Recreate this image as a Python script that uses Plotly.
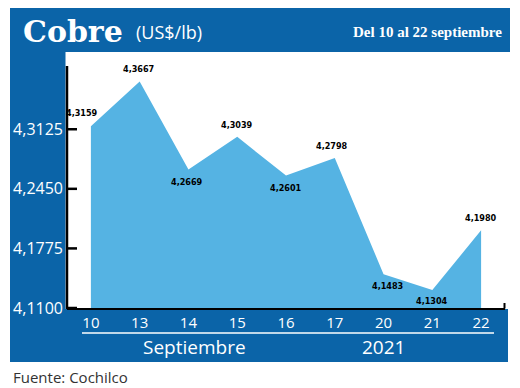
import plotly.graph_objects as go

days = ["10", "13", "14", "15", "16", "17", "20", "21", "22"]
prices = [4.3159, 4.3667, 4.2669, 4.3039, 4.2601, 4.2798, 4.1483, 4.1304, 4.1980]
price_labels = ["4,3159", "4,3667", "4,2669", "4,3039", "4,2601", "4,2798", "4,1483", "4,1304", "4,1980"]
ytick_vals = [4.1100, 4.1775, 4.2450, 4.3125]
ytick_text = ["4,1100", "4,1775", "4,2450", "4,3125"]

# label offsets (px) relative to each point
label_dx = [-9, -1, -1, 0, 0, -3, 4, 0, 0]
label_dy = [13, 12, -12, 12, -12, 12, -12, -11, 12]

OFF = 8  # page body margin
W, H = 520 - OFF, 388 - OFF
# plot area in reference (window) pixels
L, R, T, B = 67, 505, 52, 308
Y_RANGE = [4.11, 4.40]
X_RANGE = [-0.49, 8.49]
BLUE = "#0b64a8"
AREA = "#55b3e3"

def px(x):
    return (x - L) / (R - L)

def py(y):
    return (B - y) / (B - T)

fig = go.Figure()
fig.add_trace(go.Scatter(
    x=list(range(len(days))), y=prices, mode="lines", fill="tozeroy",
    line=dict(width=0, color=AREA), fillcolor=AREA, hoverinfo="skip",
))

# inside tick marks on the y axis, as a line trace built from the tick values
tick_len = 10 / ((R - L) / (X_RANGE[1] - X_RANGE[0]))
tx, ty = [], []
for v in ytick_vals:
    tx += [X_RANGE[0], X_RANGE[0] + tick_len, None]
    ty += [v, v, None]
fig.add_trace(go.Scatter(x=tx, y=ty, mode="lines", line=dict(color="black", width=2.5),
                         hoverinfo="skip", cliponaxis=False))

shapes = [
    dict(type="rect", xref="paper", yref="paper", x0=px(10), x1=px(510), y0=py(52), y1=py(8),
         fillcolor=BLUE, line=dict(width=0), layer="below"),
    dict(type="rect", xref="paper", yref="paper", x0=px(10), x1=px(65.5), y0=py(362), y1=py(52),
         fillcolor=BLUE, line=dict(width=0), layer="below"),
    dict(type="rect", xref="paper", yref="paper", x0=px(10), x1=px(508), y0=py(362), y1=py(309),
         fillcolor=BLUE, line=dict(width=0), layer="below"),
    # y axis line
    dict(type="line", xref="paper", yref="paper", x0=0, x1=0, y0=py(309), y1=py(66),
         line=dict(color="black", width=2.5), layer="above"),
    # right small tick
    dict(type="line", xref="paper", yref="paper", x0=px(504.5), x1=px(504.5), y0=py(308.5), y1=py(303),
         line=dict(color="black", width=2), layer="below"),
    # white rule under day labels
    dict(type="line", xref="paper", yref="paper", x0=px(82), x1=px(494), y0=py(333), y1=py(333),
         line=dict(color="white", width=1.5), layer="above"),
]

annotations = []
for i, (p, t, dx, dy) in enumerate(zip(prices, price_labels, label_dx, label_dy)):
    annotations.append(dict(
        xref="x", yref="y", x=i, y=p, text="<b>" + t + "</b>", showarrow=False, xshift=dx, yshift=dy,
        font=dict(family="Liberation Sans Narrow, DejaVu Sans Condensed, Arial Narrow, sans-serif",
                  size=9, color="black"),
    ))

annotations += [
    dict(xref="paper", yref="paper", x=px(21), y=py(31), xanchor="left", yanchor="middle",
         text="<b>Cobre</b>", showarrow=False,
         font=dict(family="DejaVu Serif, serif", size=30, color="white")),
    dict(xref="paper", yref="paper", x=px(134), y=py(32), xanchor="left", yanchor="middle",
         text="(US$/lb)", showarrow=False,
         font=dict(family="Open Sans, sans-serif", size=18, color="white")),
    dict(xref="paper", yref="paper", x=px(504), y=py(32), xanchor="right", yanchor="middle",
         text="<b>Del 10 al 22 septiembre</b>", showarrow=False,
         font=dict(family="Liberation Serif, serif", size=15, color="white")),
    dict(xref="paper", yref="paper", x=px(194), y=py(347), xanchor="center", yanchor="middle",
         text="Septiembre", showarrow=False,
         font=dict(family="Open Sans, sans-serif", size=19, color="white")),
    dict(xref="paper", yref="paper", x=px(383), y=py(347), xanchor="center", yanchor="middle",
         text="2021", showarrow=False,
         font=dict(family="Open Sans, sans-serif", size=19, color="white")),
    dict(xref="paper", yref="paper", x=px(11), y=py(377), xanchor="left", yanchor="middle",
         text="Fuente: Cochilco", showarrow=False,
         font=dict(family="Open Sans, sans-serif", size=15, color="#333333")),
]

fig.update_layout(
    width=W, height=H, autosize=False,
    margin=dict(l=L - OFF, r=520 - R, t=T - OFF, b=388 - B, pad=0, autoexpand=False),
    paper_bgcolor="white", plot_bgcolor="white",
    showlegend=False,
    shapes=shapes, annotations=annotations,
    xaxis=dict(
        range=X_RANGE, showgrid=False, zeroline=False, automargin=False,
        tickmode="array", tickvals=list(range(len(days))), ticktext=days,
        showline=True, linecolor="black", linewidth=2, layer="below traces",
        ticks="", tickfont=dict(family="Open Sans, sans-serif", size=15, color="white"),
        fixedrange=True,
    ),
    yaxis=dict(
        range=Y_RANGE, showgrid=False, zeroline=False, showline=False, automargin=False,
        tickvals=ytick_vals, ticktext=ytick_text, ticks="",
        tickfont=dict(family="Open Sans, sans-serif", size=16, color="white"),
        ticklabelstandoff=3, fixedrange=True,
    ),
)

fig.write_html("out.html")
